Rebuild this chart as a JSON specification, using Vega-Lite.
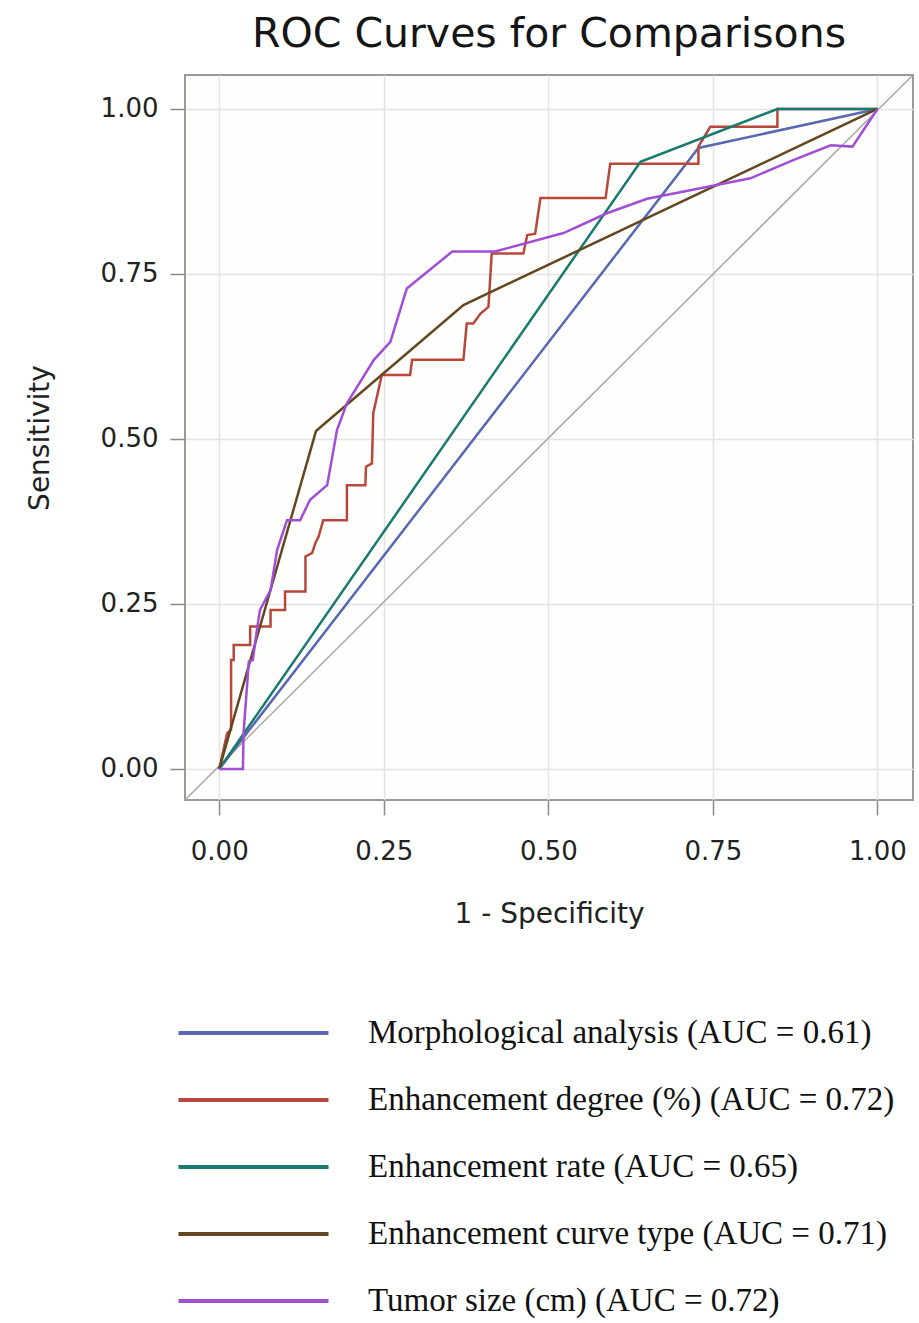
{
  "$schema": "https://vega.github.io/schema/vega-lite/v6.json",
  "autosize": "none",
  "width": 728,
  "height": 725,
  "padding": {"left": 185, "top": 75, "right": 6, "bottom": 523},
  "background": "white",
  "title": {
    "text": "ROC Curves for Comparisons",
    "font": "DejaVu Sans",
    "fontSize": 41,
    "fontWeight": "normal",
    "color": "#151515",
    "anchor": "middle",
    "frame": "group",
    "offset": 19
  },
  "config": {
    "view": {"stroke": "#9a9a9a", "strokeWidth": 2, "fill": "#fefefc"},
    "axis": {
      "grid": true,
      "gridColor": "#e3e3e3",
      "gridWidth": 1.5,
      "domain": false,
      "tickColor": "#8a8a8a",
      "tickWidth": 1.5,
      "tickSize": 15,
      "labelFont": "DejaVu Sans",
      "labelFontSize": 26,
      "labelColor": "#222",
      "titleFont": "DejaVu Sans",
      "titleFontSize": 28,
      "titleFontWeight": "normal",
      "titleColor": "#222"
    }
  },
  "layer": [
    {
      "data": {"values": [{"x": -0.052, "y": -0.047}, {"x": 1.054, "y": 1.0515}]},
      "mark": {"type": "line", "color": "#a8a8a8", "strokeWidth": 1.5, "clip": true},
      "encoding": {
        "x": {"field": "x", "type": "quantitative", "scale": {"domain": [-0.052, 1.054], "nice": false, "zero": false},
              "axis": {"values": [0, 0.25, 0.5, 0.75, 1], "format": ".2f", "title": "1 - Specificity", "labelPadding": 23, "titlePadding": 36}},
        "y": {"field": "y", "type": "quantitative", "scale": {"domain": [-0.047, 1.0515], "nice": false, "zero": false},
              "axis": {"values": [0, 0.25, 0.5, 0.75, 1], "format": ".2f", "title": "Sensitivity", "labelPadding": 12, "titlePadding": 46}}
      }
    },
    {
      "data": {"values": [
        {"s": "Morphological analysis (AUC = 0.61)", "i": 0, "x": 0, "y": 0},
        {"s": "Morphological analysis (AUC = 0.61)", "i": 1, "x": 0.728, "y": 0.941},
        {"s": "Morphological analysis (AUC = 0.61)", "i": 2, "x": 1, "y": 1},
        {"s": "Enhancement degree (%) (AUC = 0.72)", "i": 0, "x": 0, "y": 0},
        {"s": "Enhancement degree (%) (AUC = 0.72)", "i": 1, "x": 0.012, "y": 0.054},
        {"s": "Enhancement degree (%) (AUC = 0.72)", "i": 2, "x": 0.018, "y": 0.06},
        {"s": "Enhancement degree (%) (AUC = 0.72)", "i": 3, "x": 0.018, "y": 0.165},
        {"s": "Enhancement degree (%) (AUC = 0.72)", "i": 4, "x": 0.022, "y": 0.165},
        {"s": "Enhancement degree (%) (AUC = 0.72)", "i": 5, "x": 0.022, "y": 0.188},
        {"s": "Enhancement degree (%) (AUC = 0.72)", "i": 6, "x": 0.047, "y": 0.188},
        {"s": "Enhancement degree (%) (AUC = 0.72)", "i": 7, "x": 0.047, "y": 0.216},
        {"s": "Enhancement degree (%) (AUC = 0.72)", "i": 8, "x": 0.078, "y": 0.216},
        {"s": "Enhancement degree (%) (AUC = 0.72)", "i": 9, "x": 0.078, "y": 0.241},
        {"s": "Enhancement degree (%) (AUC = 0.72)", "i": 10, "x": 0.1, "y": 0.241},
        {"s": "Enhancement degree (%) (AUC = 0.72)", "i": 11, "x": 0.1, "y": 0.269},
        {"s": "Enhancement degree (%) (AUC = 0.72)", "i": 12, "x": 0.131, "y": 0.269},
        {"s": "Enhancement degree (%) (AUC = 0.72)", "i": 13, "x": 0.131, "y": 0.322},
        {"s": "Enhancement degree (%) (AUC = 0.72)", "i": 14, "x": 0.141, "y": 0.327},
        {"s": "Enhancement degree (%) (AUC = 0.72)", "i": 15, "x": 0.146, "y": 0.342},
        {"s": "Enhancement degree (%) (AUC = 0.72)", "i": 16, "x": 0.151, "y": 0.352},
        {"s": "Enhancement degree (%) (AUC = 0.72)", "i": 17, "x": 0.158, "y": 0.377},
        {"s": "Enhancement degree (%) (AUC = 0.72)", "i": 18, "x": 0.194, "y": 0.377},
        {"s": "Enhancement degree (%) (AUC = 0.72)", "i": 19, "x": 0.194, "y": 0.43},
        {"s": "Enhancement degree (%) (AUC = 0.72)", "i": 20, "x": 0.222, "y": 0.43},
        {"s": "Enhancement degree (%) (AUC = 0.72)", "i": 21, "x": 0.223, "y": 0.458},
        {"s": "Enhancement degree (%) (AUC = 0.72)", "i": 22, "x": 0.232, "y": 0.463},
        {"s": "Enhancement degree (%) (AUC = 0.72)", "i": 23, "x": 0.234, "y": 0.539},
        {"s": "Enhancement degree (%) (AUC = 0.72)", "i": 24, "x": 0.247, "y": 0.597},
        {"s": "Enhancement degree (%) (AUC = 0.72)", "i": 25, "x": 0.29, "y": 0.597},
        {"s": "Enhancement degree (%) (AUC = 0.72)", "i": 26, "x": 0.293, "y": 0.62},
        {"s": "Enhancement degree (%) (AUC = 0.72)", "i": 27, "x": 0.371, "y": 0.62},
        {"s": "Enhancement degree (%) (AUC = 0.72)", "i": 28, "x": 0.376, "y": 0.675},
        {"s": "Enhancement degree (%) (AUC = 0.72)", "i": 29, "x": 0.386, "y": 0.675},
        {"s": "Enhancement degree (%) (AUC = 0.72)", "i": 30, "x": 0.397, "y": 0.69},
        {"s": "Enhancement degree (%) (AUC = 0.72)", "i": 31, "x": 0.409, "y": 0.7},
        {"s": "Enhancement degree (%) (AUC = 0.72)", "i": 32, "x": 0.414, "y": 0.781},
        {"s": "Enhancement degree (%) (AUC = 0.72)", "i": 33, "x": 0.462, "y": 0.781},
        {"s": "Enhancement degree (%) (AUC = 0.72)", "i": 34, "x": 0.468, "y": 0.809},
        {"s": "Enhancement degree (%) (AUC = 0.72)", "i": 35, "x": 0.48, "y": 0.811},
        {"s": "Enhancement degree (%) (AUC = 0.72)", "i": 36, "x": 0.488, "y": 0.865},
        {"s": "Enhancement degree (%) (AUC = 0.72)", "i": 37, "x": 0.587, "y": 0.865},
        {"s": "Enhancement degree (%) (AUC = 0.72)", "i": 38, "x": 0.594, "y": 0.917},
        {"s": "Enhancement degree (%) (AUC = 0.72)", "i": 39, "x": 0.728, "y": 0.917},
        {"s": "Enhancement degree (%) (AUC = 0.72)", "i": 40, "x": 0.728, "y": 0.943},
        {"s": "Enhancement degree (%) (AUC = 0.72)", "i": 41, "x": 0.746, "y": 0.973},
        {"s": "Enhancement degree (%) (AUC = 0.72)", "i": 42, "x": 0.848, "y": 0.973},
        {"s": "Enhancement degree (%) (AUC = 0.72)", "i": 43, "x": 0.848, "y": 1},
        {"s": "Enhancement degree (%) (AUC = 0.72)", "i": 44, "x": 1, "y": 1},
        {"s": "Enhancement rate (AUC = 0.65)", "i": 0, "x": 0, "y": 0},
        {"s": "Enhancement rate (AUC = 0.65)", "i": 1, "x": 0.64, "y": 0.92},
        {"s": "Enhancement rate (AUC = 0.65)", "i": 2, "x": 0.848, "y": 1},
        {"s": "Enhancement rate (AUC = 0.65)", "i": 3, "x": 1, "y": 1},
        {"s": "Enhancement curve type (AUC = 0.71)", "i": 0, "x": 0, "y": 0},
        {"s": "Enhancement curve type (AUC = 0.71)", "i": 1, "x": 0.147, "y": 0.512},
        {"s": "Enhancement curve type (AUC = 0.71)", "i": 2, "x": 0.371, "y": 0.703},
        {"s": "Enhancement curve type (AUC = 0.71)", "i": 3, "x": 1, "y": 1},
        {"s": "Tumor size (cm) (AUC = 0.72)", "i": 0, "x": 0, "y": 0},
        {"s": "Tumor size (cm) (AUC = 0.72)", "i": 1, "x": 0.036, "y": 0},
        {"s": "Tumor size (cm) (AUC = 0.72)", "i": 2, "x": 0.037, "y": 0.055},
        {"s": "Tumor size (cm) (AUC = 0.72)", "i": 3, "x": 0.045, "y": 0.163},
        {"s": "Tumor size (cm) (AUC = 0.72)", "i": 4, "x": 0.051, "y": 0.165},
        {"s": "Tumor size (cm) (AUC = 0.72)", "i": 5, "x": 0.058, "y": 0.216},
        {"s": "Tumor size (cm) (AUC = 0.72)", "i": 6, "x": 0.062, "y": 0.241},
        {"s": "Tumor size (cm) (AUC = 0.72)", "i": 7, "x": 0.078, "y": 0.271},
        {"s": "Tumor size (cm) (AUC = 0.72)", "i": 8, "x": 0.088, "y": 0.332},
        {"s": "Tumor size (cm) (AUC = 0.72)", "i": 9, "x": 0.103, "y": 0.377},
        {"s": "Tumor size (cm) (AUC = 0.72)", "i": 10, "x": 0.123, "y": 0.377},
        {"s": "Tumor size (cm) (AUC = 0.72)", "i": 11, "x": 0.138, "y": 0.408},
        {"s": "Tumor size (cm) (AUC = 0.72)", "i": 12, "x": 0.164, "y": 0.43},
        {"s": "Tumor size (cm) (AUC = 0.72)", "i": 13, "x": 0.179, "y": 0.514},
        {"s": "Tumor size (cm) (AUC = 0.72)", "i": 14, "x": 0.194, "y": 0.554},
        {"s": "Tumor size (cm) (AUC = 0.72)", "i": 15, "x": 0.235, "y": 0.62},
        {"s": "Tumor size (cm) (AUC = 0.72)", "i": 16, "x": 0.26, "y": 0.647},
        {"s": "Tumor size (cm) (AUC = 0.72)", "i": 17, "x": 0.285, "y": 0.728},
        {"s": "Tumor size (cm) (AUC = 0.72)", "i": 18, "x": 0.354, "y": 0.784},
        {"s": "Tumor size (cm) (AUC = 0.72)", "i": 19, "x": 0.419, "y": 0.784},
        {"s": "Tumor size (cm) (AUC = 0.72)", "i": 20, "x": 0.523, "y": 0.812},
        {"s": "Tumor size (cm) (AUC = 0.72)", "i": 21, "x": 0.589, "y": 0.842},
        {"s": "Tumor size (cm) (AUC = 0.72)", "i": 22, "x": 0.65, "y": 0.864},
        {"s": "Tumor size (cm) (AUC = 0.72)", "i": 23, "x": 0.731, "y": 0.88},
        {"s": "Tumor size (cm) (AUC = 0.72)", "i": 24, "x": 0.807, "y": 0.895},
        {"s": "Tumor size (cm) (AUC = 0.72)", "i": 25, "x": 0.873, "y": 0.923},
        {"s": "Tumor size (cm) (AUC = 0.72)", "i": 26, "x": 0.929, "y": 0.945},
        {"s": "Tumor size (cm) (AUC = 0.72)", "i": 27, "x": 0.962, "y": 0.943},
        {"s": "Tumor size (cm) (AUC = 0.72)", "i": 28, "x": 1, "y": 1}
      ]},
      "mark": {"type": "line", "strokeWidth": 2.5},
      "encoding": {
        "x": {"field": "x", "type": "quantitative"},
        "y": {"field": "y", "type": "quantitative"},
        "order": {"field": "i", "type": "quantitative"},
        "color": {
          "field": "s",
          "type": "nominal",
          "scale": {
            "domain": ["Morphological analysis (AUC = 0.61)", "Enhancement degree (%) (AUC = 0.72)", "Enhancement rate (AUC = 0.65)", "Enhancement curve type (AUC = 0.71)", "Tumor size (cm) (AUC = 0.72)"],
            "range": ["#5868b2", "#b8473c", "#197a70", "#644720", "#a04ed6"]
          },
          "legend": {
            "orient": "none",
            "legendX": 51.5,
            "legendY": 941,
            "title": null,
            "padding": 0,
            "symbolType": "M-5,0H5",
            "symbolSize": 900,
            "symbolStrokeWidth": 4,
            "labelFont": "Liberation Serif",
            "labelFontSize": 33,
            "labelColor": "#111",
            "labelOffset": 97.5,
            "labelLimit": 700,
            "rowPadding": 33
          }
        }
      }
    }
  ]
}
